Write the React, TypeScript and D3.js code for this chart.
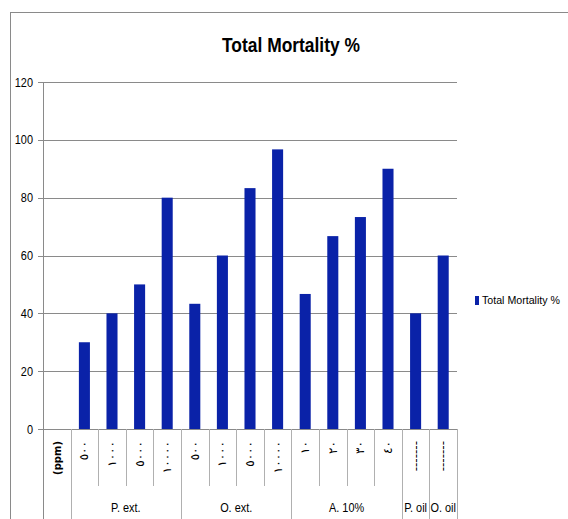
import React from 'react';
import * as d3 from 'd3';

// x categories (first one is the unit label, no bar)
const categories = ['(ppm)', '٥٠٠', '١٠٠٠', '٥٠٠٠', '١٠٠٠٠', '٥٠٠', '١٠٠٠', '٥٠٠٠', '١٠٠٠٠', '١٠', '٢٠', '٣٠', '٤٠', '-------', '-------'];
const mortality = [null, 30, 40, 50, 80, 43.3, 60, 83.3, 96.7, 46.7, 66.7, 73.3, 90, 40, 60];
const groupNames = ['P. ext.', 'O. ext.', 'A. 10%', 'P. oil', 'O. oil'];
const groupSizes = [4, 4, 4, 1, 1];
const yTicks = [0, 20, 40, 60, 80, 100, 120];

const FONT = "'Liberation Sans', Arial, sans-serif";
const BAR = '#0a22a8';
const LINE = '#8a8a8a';

// narrow text, like Calibri
const Narrow = ({ x, y, anchor = 'start', size = 12, weight = 'normal', children }: any) => (
  <text transform={`translate(${x},${y}) scale(0.84,1)`} textAnchor={anchor} fontFamily={FONT}
    fontSize={size} fontWeight={weight} fill="#000">{children}</text>
);

const App = () => {
  const left = 43, right = 457, top = 82, bottom = 429;

  const x = d3.scaleBand<number>()
    .domain(d3.range(categories.length))
    .range([left, right])
    .padding(0);
  const y = d3.scaleLinear().domain([0, 120]).range([bottom, top]);
  const bw = x.bandwidth() * 0.4;

  const starts: number[] = [];
  let acc = 1;
  groupSizes.forEach(s => { starts.push(acc); acc += s; });

  const edge = (i: number) => (i < categories.length ? x(i)! : right);

  return (
    <svg width={568} height={519} style={{ position: 'absolute', left: 0, top: 0, background: '#fff' }}>
      <rect x={10.5} y={12.5} width={600} height={560} fill="#fff" stroke={LINE} />
      <text x={291} y={52} textAnchor="middle" fontFamily={FONT} fontWeight="bold" fontSize={20}
        textLength={138} lengthAdjust="spacingAndGlyphs" fill="#000">
        Total Mortality %
      </text>

      {yTicks.map(t => (
        <g key={t}>
          <line x1={left - 5} x2={right} y1={Math.round(y(t)) + 0.5} y2={Math.round(y(t)) + 0.5} stroke={LINE} />
          <Narrow x={33} y={y(t) + 4.5} anchor="end" size={13}>{t}</Narrow>
        </g>
      ))}
      <line x1={left + 0.5} x2={left + 0.5} y1={top} y2={519} stroke={LINE} />

      {categories.map((c, i) => {
        if (i === 0) return null;
        const isGroupEdge = starts.includes(i);
        return (
          <line key={'s' + i} x1={Math.round(edge(i)) + 0.5} x2={Math.round(edge(i)) + 0.5}
            y1={bottom} y2={isGroupEdge ? 519 : 486} stroke="#b0b0b0" />
        );
      })}
      <line x1={right + 0.5} x2={right + 0.5} y1={bottom} y2={519} stroke="#b0b0b0" />

      {mortality.map((v, i) => v == null ? null : (
        <rect key={'b' + i} x={x(i)! + (x.bandwidth() - bw) / 2} y={y(v)} width={bw} height={y(0) - y(v)} fill={BAR} />
      ))}

      {categories.map((c, i) => {
        const cx = x(i)! + x.bandwidth() / 2;
        const isUnit = i === 0;
        return (
          <text key={'c' + i} transform={`translate(${cx + 4},441) rotate(-90)`} textAnchor="end"
            fontFamily="'DejaVu Sans', sans-serif"
            fontWeight={isUnit ? 'bold' : 'normal'} fontSize={isUnit ? 10 : 12} fill="#000">{c}</text>
        );
      })}

      {groupNames.map((g, k) => {
        const x0 = edge(starts[k]);
        const x1 = edge(starts[k] + groupSizes[k]);
        return <Narrow key={g} x={(x0 + x1) / 2} y={512} anchor="middle" size={13}>{g}</Narrow>;
      })}

      <rect x={475} y={296} width={4} height={9} fill={BAR} />
      <text x={482} y={304} fontFamily={FONT} fontSize={11} textLength={78} lengthAdjust="spacingAndGlyphs" fill="#000">
        Total Mortality %
      </text>
    </svg>
  );
};

export default App;
